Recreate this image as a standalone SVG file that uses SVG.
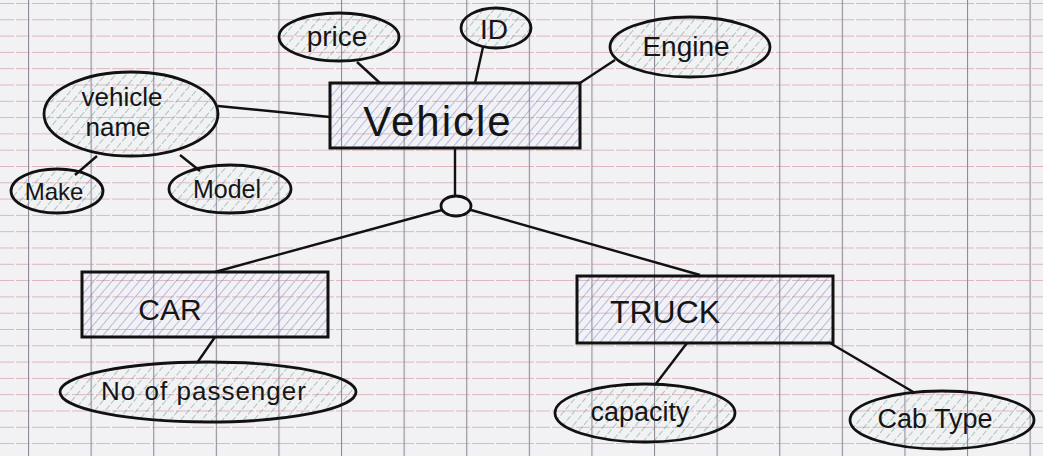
<svg xmlns="http://www.w3.org/2000/svg" width="1043" height="456" viewBox="0 0 1043 456">
  <defs>
    <!-- squared paper -->
    <pattern id="rows" x="0" y="3" width="40" height="16.3" patternUnits="userSpaceOnUse">
      <line x1="0" y1="0.5" x2="40" y2="0.5" stroke="#dcb4bc" stroke-width="1.1" stroke-dasharray="14 2"/>
    </pattern>
    <pattern id="cols" x="28" y="0" width="62.6" height="40" patternUnits="userSpaceOnUse">
      <line x1="0.5" y1="0" x2="0.5" y2="40" stroke="#938a98" stroke-width="1.2"/>
    </pattern>
    <!-- pencil shading, slanted "/" -->
    <pattern id="hatchGreen" width="8" height="8" patternUnits="userSpaceOnUse" patternTransform="rotate(40)">
      <line x1="0" y1="0" x2="0" y2="8" stroke="#4f9a7c" stroke-width="1.5" stroke-dasharray="6 4" opacity="0.65"/>
    </pattern>
    <pattern id="hatchBlue" width="7" height="7" patternUnits="userSpaceOnUse" patternTransform="rotate(40)">
      <line x1="0" y1="0" x2="0" y2="7" stroke="#6c74c8" stroke-width="1.5" stroke-dasharray="7 3" opacity="0.6"/>
    </pattern>
  </defs>
  <style>
    .attr { fill: url(#hatchGreen); stroke: #111; stroke-width: 2.8; }
    .ent { fill: url(#hatchBlue); stroke: #111; stroke-width: 3; }
    .bg { fill: #f2f2f5; }
    .lbl { font-family: "Liberation Sans", "DejaVu Sans", sans-serif; fill: #151515; text-anchor: middle; }
    .conn line { stroke: #111; stroke-width: 2.4; }
  </style>

  <rect class="bg" x="0" y="0" width="1043" height="456"/>
  <rect x="0" y="0" width="1043" height="456" fill="url(#rows)"/>
  <rect x="0" y="0" width="1043" height="456" fill="url(#cols)"/>

  <g id="connectors" class="conn">
    <line x1="357" y1="62" x2="380" y2="83"/>
    <line x1="483" y1="47" x2="475" y2="83"/>
    <line x1="580" y1="83" x2="615" y2="60"/>
    <line x1="218" y1="106" x2="330" y2="117"/>
    <line x1="97" y1="156" x2="75" y2="175"/>
    <line x1="180" y1="155" x2="200" y2="171"/>
    <line x1="455" y1="148" x2="455" y2="196"/>
    <line x1="442" y1="210" x2="215" y2="272"/>
    <line x1="471" y1="210" x2="700" y2="275"/>
    <line x1="215" y1="337" x2="197" y2="363"/>
    <line x1="687" y1="343" x2="655" y2="385"/>
    <line x1="830" y1="343" x2="915" y2="393"/>
  </g>

  <g id="vehicle">
    <rect class="ent" x="330" y="83" width="250" height="65"/>
    <text class="lbl" x="438" y="136" font-size="42" letter-spacing="2">Vehicle</text>
  </g>
  <g id="price">
    <ellipse class="attr" cx="339" cy="37" rx="60" ry="24"/>
    <text class="lbl" x="337" y="46" font-size="28">price</text>
  </g>
  <g id="id">
    <ellipse class="attr" cx="496" cy="28" rx="35" ry="20"/>
    <text class="lbl" x="494" y="39" font-size="28">ID</text>
  </g>
  <g id="engine">
    <ellipse class="attr" cx="690" cy="47" rx="80" ry="30"/>
    <text class="lbl" x="686" y="56" font-size="28">Engine</text>
  </g>
  <g id="vehicle-name">
    <ellipse class="attr" cx="131" cy="114" rx="87" ry="42"/>
    <text class="lbl" x="122" y="106" font-size="26">vehicle</text>
    <text class="lbl" x="118" y="136" font-size="26">name</text>
  </g>
  <g id="make">
    <ellipse class="attr" cx="57" cy="191" rx="46" ry="22"/>
    <text class="lbl" x="54" y="200" font-size="24">Make</text>
  </g>
  <g id="model">
    <ellipse class="attr" cx="230" cy="189" rx="61" ry="24"/>
    <text class="lbl" x="227" y="198" font-size="25">Model</text>
  </g>
  <g id="isa">
    <ellipse cx="456" cy="206" rx="15" ry="10" fill="#f2f2f5" stroke="#111" stroke-width="2.8"/>
  </g>
  <g id="car">
    <rect class="ent" x="82" y="272" width="246" height="65"/>
    <text class="lbl" x="170" y="320" font-size="30">CAR</text>
  </g>
  <g id="no-of-passenger">
    <ellipse class="attr" cx="208" cy="392" rx="148" ry="30"/>
    <text class="lbl" x="204" y="400" font-size="26" letter-spacing="1">No of passenger</text>
  </g>
  <g id="truck">
    <rect class="ent" x="577" y="276" width="256" height="67"/>
    <text class="lbl" x="665" y="323" font-size="32">TRUCK</text>
  </g>
  <g id="capacity">
    <ellipse class="attr" cx="645" cy="413" rx="90" ry="29"/>
    <text class="lbl" x="640" y="421" font-size="27">capacity</text>
  </g>
  <g id="cab-type">
    <ellipse class="attr" cx="942" cy="420" rx="92" ry="29"/>
    <text class="lbl" x="935" y="428" font-size="27">Cab Type</text>
  </g>
</svg>
